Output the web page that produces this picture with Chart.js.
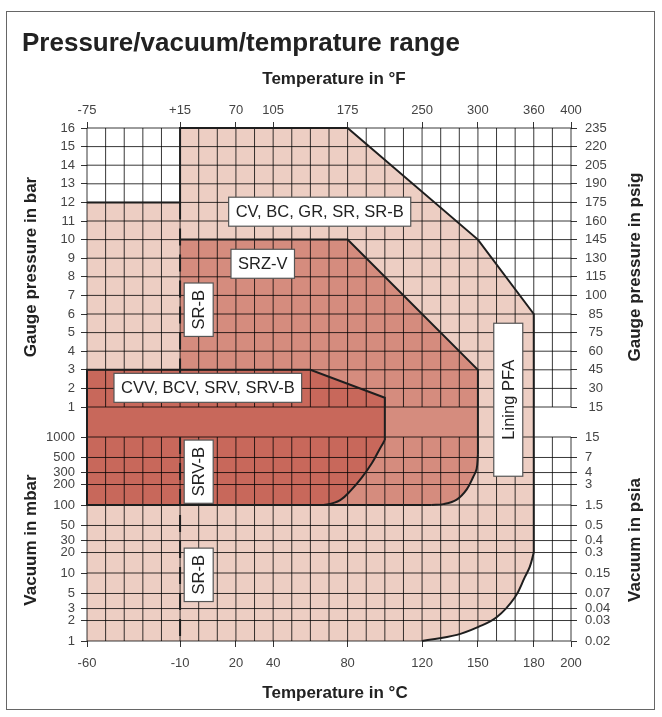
<!DOCTYPE html>
<html>
<head>
<meta charset="utf-8">
<script src="https://cdn.jsdelivr.net/npm/chart.js@4.4.0/dist/chart.umd.min.js"></script>
<style>
  html, body { margin: 0; padding: 0; background: #fff; }
  #wrap { position: relative; width: 662px; height: 717px; overflow: hidden;
          font-family: 'Liberation Sans', Arial, Helvetica, sans-serif; color: #222; }
  #frame { position: absolute; left: 6px; top: 11px; width: 649px; height: 699px;
           border: 1px solid #666; box-sizing: border-box; }
  canvas { position: absolute; left: 0; top: 0; }
  .t { position: absolute; white-space: nowrap; line-height: 1; font-weight: bold; }
  .c { transform: translate(-50%, -50%); }
  .r { transform: translate(-50%, -50%) rotate(-90deg); }
</style>
</head>
<body>
<div id="wrap">
  <div id="frame"></div>
  <canvas id="chart" width="662" height="717"></canvas>
  <div class="t" style="left:22px; top:42px; font-size:26px; transform: translateY(-50%);">Pressure/vacuum/temprature range</div>
  <div class="t c" style="left:334px; top:78px; font-size:17px;">Temperature in °F</div>
  <div class="t c" style="left:335px; top:692px; font-size:17px;">Temperature in °C</div>
  <div class="t r" style="left:30px; top:267px; font-size:17px;">Gauge pressure in bar</div>
  <div class="t r" style="left:30px; top:540px; font-size:17px;">Vacuum in mbar</div>
  <div class="t r" style="left:634px; top:267px; font-size:17px;">Gauge pressure in psig</div>
  <div class="t r" style="left:634px; top:540px; font-size:17px;">Vacuum in psia</div>
</div>
<script>
// ---------------- data ----------------
const tempTicksC   = [-60, -10, 20, 40, 80, 120, 150, 180, 200];
const tempLabelsF  = ['-75', '+15', '70', '105', '175', '250', '300', '360', '400'];
const gridTempC    = [-60, -50, -40, -30, -20, -10, 0, 10, 20, 30, 40, 50, 60, 70, 80, 90, 100,
                      110, 120, 130, 140, 150, 160, 170, 180, 190, 200];
const pressureBar  = [16, 15, 14, 13, 12, 11, 10, 9, 8, 7, 6, 5, 4, 3, 2, 1];
const pressurePsig = ['235', '220', '205', '190', '175', '160', '145', '130', '115', '100', '85', '75', '60', '45', '30', '15'];
const vacuumMbar   = [1000, 500, 300, 200, 100, 50, 30, 20, 10, 5, 3, 2, 1];
const vacuumPsia   = ['15', '7', '4', '3', '1.5', '0.5', '0.4', '0.3', '0.15', '0.07', '0.04', '0.03', '0.02'];

// CV, BC, GR, SR, SR-B  (°C, value, unit)
const cvBase  = [[-60, 1, 'mbar']];
const cvEdge  = [[-60, 12, 'bar'], [-10, 12, 'bar'], [-10, 16, 'bar'], [80, 16, 'bar'], [150, 10, 'bar'], [180, 6, 'bar'], [180, 20, 'mbar']];
const cvCurve = [[180, 20, 'mbar'], [177.9, 12.4, 'mbar'], [175.2, 8.7, 'mbar'], [169.9, 4.4, 'mbar'], [160.2, 2.25, 'mbar'], [150, 1.6, 'mbar'], [138.7, 1.23, 'mbar'], [120, 1, 'mbar']];
// SRZ-V
const srzEdge  = [[-10, 10, 'bar'], [80, 10, 'bar'], [150, 3, 'bar'], [150, 550, 'mbar']];
const srzCurve = [[150, 550, 'mbar'], [149.3, 340, 'mbar'], [147.5, 260, 'mbar'], [144, 170, 'mbar'], [138.6, 120, 'mbar'], [131.5, 103, 'mbar'], [125, 100, 'mbar']];
const srzBase  = [[125, 100, 'mbar'], [-10, 100, 'mbar']];
// CVV, BCV, SRV, SRV-B
const cvvEdge  = [[-60, 100, 'mbar'], [-60, 3, 'bar'], [60, 3, 'bar'], [100, 1.5, 'bar'], [100, 900, 'mbar']];
const cvvCurve = [[100, 900, 'mbar'], [97.4, 680, 'mbar'], [93, 410, 'mbar'], [87.5, 250, 'mbar'], [82, 167, 'mbar'], [76, 118, 'mbar'], [69, 102, 'mbar'], [61, 100, 'mbar']];
const cvvBase  = [[61, 100, 'mbar'], [-60, 100, 'mbar']];
// dashed divider at -10 °C
const dividerLine = [[-10, 12, 'bar'], [-10, 1, 'bar'], null, [-10, 1000, 'mbar'], [-10, 1, 'mbar']];

// labels
const labelTexts    = ['CV, BC, GR, SR, SR-B', 'SRZ-V', 'SR-B', 'CVV, BCV, SRV, SRV-B', 'SRV-B', 'SR-B', 'Lining PFA'];
const labelAt       = [[65, 11.5, 'bar'], [34.4, 8.7, 'bar'], [0, 6.23, 'bar'], [4.9, 2.03, 'bar'], [0, 309, 'mbar'], [0, 9.4, 'mbar'], [166.3, 1.39, 'bar']];
const labelVertical = [false, false, true, false, true, true, true];

// ---------------- axis geometry (pressure axis: linear bar part above log mbar part) ----------------
const AX = { decade: 68, oneBar: 234, perBar: 18.6, top: 513, split: 219 };
function u(v, unit) { return unit === 'bar' ? AX.oneBar + (v - 1) * AX.perBar : AX.decade * Math.log10(v); }
function pts(arr) {
  const out = [];
  arr.forEach((p, i) => {
    if (p) out.push({ x: p[0], y: u(p[1], p[2]) });
    else out.push({ x: arr[i - 1][0], y: null });
  });
  return out;
}

const barU  = pressureBar.map(b => u(b, 'bar'));
const mbarU = vacuumMbar.map(m => u(m, 'mbar'));
const leftTickVals   = [...barU, ...mbarU];
const leftTickLabels = [...pressureBar.map(String), ...vacuumMbar.map(String)];

const xMin = gridTempC[0], xMax = gridTempC[gridTempC.length - 1];
const gridPts = [];
gridTempC.forEach(t => {
  gridPts.push({ x: t, y: 0 }, { x: t, y: u(1000, 'mbar') }, { x: t, y: null },
               { x: t, y: u(1, 'bar') }, { x: t, y: AX.top }, { x: t, y: null });
});
leftTickVals.forEach(v => { gridPts.push({ x: xMin, y: v }, { x: xMax, y: v }, { x: xMax, y: null }); });

// ---------------- styles ----------------
const COL = { light: '#EDCEC3', medium: '#D58C7E', dark: '#C8685B', edge: '#1e1e1e', grid: 'rgba(0,0,0,0.78)', tick: '#444' };
const FONT = "'Liberation Sans', Arial, Helvetica, sans-serif";
Chart.defaults.font.family = FONT;

function fillSet(data, color, order) {
  return { data, fill: 'shape', backgroundColor: color, borderWidth: 0, borderColor: 'rgba(0,0,0,0)',
           pointRadius: 0, tension: 0, order, clip: false };
}
function lineSet(data, order, extra) {
  return Object.assign({ data, fill: false, borderColor: COL.edge, borderWidth: 2, pointRadius: 0,
           tension: 0, order, clip: false, spanGaps: false, borderJoinStyle: 'miter' }, extra || {});
}

const datasets = [
  fillSet(pts([...cvBase, ...cvEdge, ...cvCurve]), COL.light, 20),
  fillSet(pts([...srzEdge, ...srzCurve, ...srzBase]), COL.medium, 19),
  fillSet(pts([...cvvEdge, ...cvvCurve]), COL.dark, 18),
  lineSet(gridPts, 10, { borderColor: COL.grid, borderWidth: 1 }),
  lineSet(pts(cvEdge), 5),
  lineSet(pts(cvCurve), 5, { tension: 0.4 }),
  lineSet(pts(srzEdge), 4),
  lineSet(pts(srzCurve), 4, { tension: 0.4 }),
  lineSet(pts(srzBase), 4),
  lineSet(pts(cvvEdge), 3),
  lineSet(pts(cvvCurve), 3, { tension: 0.4 }),
  lineSet(pts(cvvBase), 3),
  lineSet(pts(dividerLine), 2, { borderDash: [17, 9] })
];

const tickFont = { size: 13 };
function tickGrid() { return { drawOnChartArea: false, drawTicks: true, tickLength: 6, tickColor: '#333', lineWidth: 1 }; }

const labelPlugin = {
  id: 'boxLabels',
  afterDatasetsDraw(chart) {
    const ctx = chart.ctx, xs = chart.scales.x, ys = chart.scales.y;
    const padX = 7, boxH = 29, minLen = [0, 0, 0, 0, 0, 0, 153];
    ctx.save();
    ctx.font = '16.5px ' + FONT;
    labelTexts.forEach((txt, i) => {
      const a = labelAt[i];
      const cx = xs.getPixelForValue(a[0]);
      const cy = ys.getPixelForValue(u(a[1], a[2]));
      const w = Math.max(ctx.measureText(txt).width + 2 * padX, minLen[i]);
      ctx.save();
      ctx.translate(cx, cy);
      if (labelVertical[i]) ctx.rotate(-Math.PI / 2);
      ctx.fillStyle = '#fff';
      ctx.fillRect(-w / 2, -boxH / 2, w, boxH);
      ctx.strokeStyle = '#555';
      ctx.lineWidth = 1.2;
      ctx.strokeRect(-w / 2, -boxH / 2, w, boxH);
      ctx.fillStyle = '#222';
      ctx.textAlign = 'center';
      ctx.textBaseline = 'middle';
      ctx.fillText(txt, 0, 1);
      ctx.restore();
    });
    ctx.restore();
  }
};

new Chart(document.getElementById('chart'), {
  type: 'line',
  data: { datasets },
  plugins: [labelPlugin],
  options: {
    responsive: false,
    animation: false,
    devicePixelRatio: 1,
    events: [],
    layout: { padding: 0 },
    plugins: { legend: { display: false }, tooltip: { enabled: false }, title: { display: false } },
    scales: {
      x: {
        type: 'linear', position: 'bottom', min: xMin, max: xMax,
        afterBuildTicks: s => { s.ticks = tempTicksC.map(v => ({ value: v })); },
        afterFit: s => { s.height = 76; },
        ticks: { autoSkip: false, maxRotation: 0, padding: 9, color: COL.tick, font: tickFont,
                 callback: (v, i) => String(tempTicksC[i]) },
        grid: tickGrid(), border: { display: false }
      },
      x2: {
        type: 'linear', position: 'top', min: xMin, max: xMax,
        afterBuildTicks: s => { s.ticks = tempTicksC.map(v => ({ value: v })); },
        afterFit: s => { s.height = 128; },
        ticks: { autoSkip: false, maxRotation: 0, padding: 4, color: COL.tick, font: tickFont,
                 callback: (v, i) => tempLabelsF[i] },
        grid: tickGrid(), border: { display: false }
      },
      y: {
        type: 'linear', position: 'left', min: 0, max: AX.top,
        afterBuildTicks: s => { s.ticks = leftTickVals.map(v => ({ value: v })); },
        afterFit: s => { s.width = 87; },
        ticks: { autoSkip: false, padding: 6, color: COL.tick, font: tickFont, crossAlign: 'near',
                 callback: (v, i) => leftTickLabels[i] },
        grid: tickGrid(), border: { display: false }
      },
      yPsig: {
        type: 'linear', position: 'right', stack: 'right', stackWeight: AX.top - AX.split,
        min: AX.split, max: AX.top,
        afterBuildTicks: s => { s.ticks = barU.map(v => ({ value: v })); },
        afterFit: s => { s.width = 91; },
        ticks: { autoSkip: false, padding: 8, color: COL.tick, font: tickFont, crossAlign: 'center',
                 callback: (v, i) => pressurePsig[i] },
        grid: tickGrid(), border: { display: false }
      },
      yPsia: {
        type: 'linear', position: 'right', stack: 'right', stackWeight: AX.split,
        min: 0, max: AX.split,
        afterBuildTicks: s => { s.ticks = mbarU.map(v => ({ value: v })); },
        afterFit: s => { s.width = 91; },
        ticks: { autoSkip: false, padding: 8, color: COL.tick, font: tickFont, crossAlign: 'near',
                 callback: (v, i) => vacuumPsia[i] },
        grid: tickGrid(), border: { display: false }
      }
    }
  }
});
</script>
</body>
</html>
